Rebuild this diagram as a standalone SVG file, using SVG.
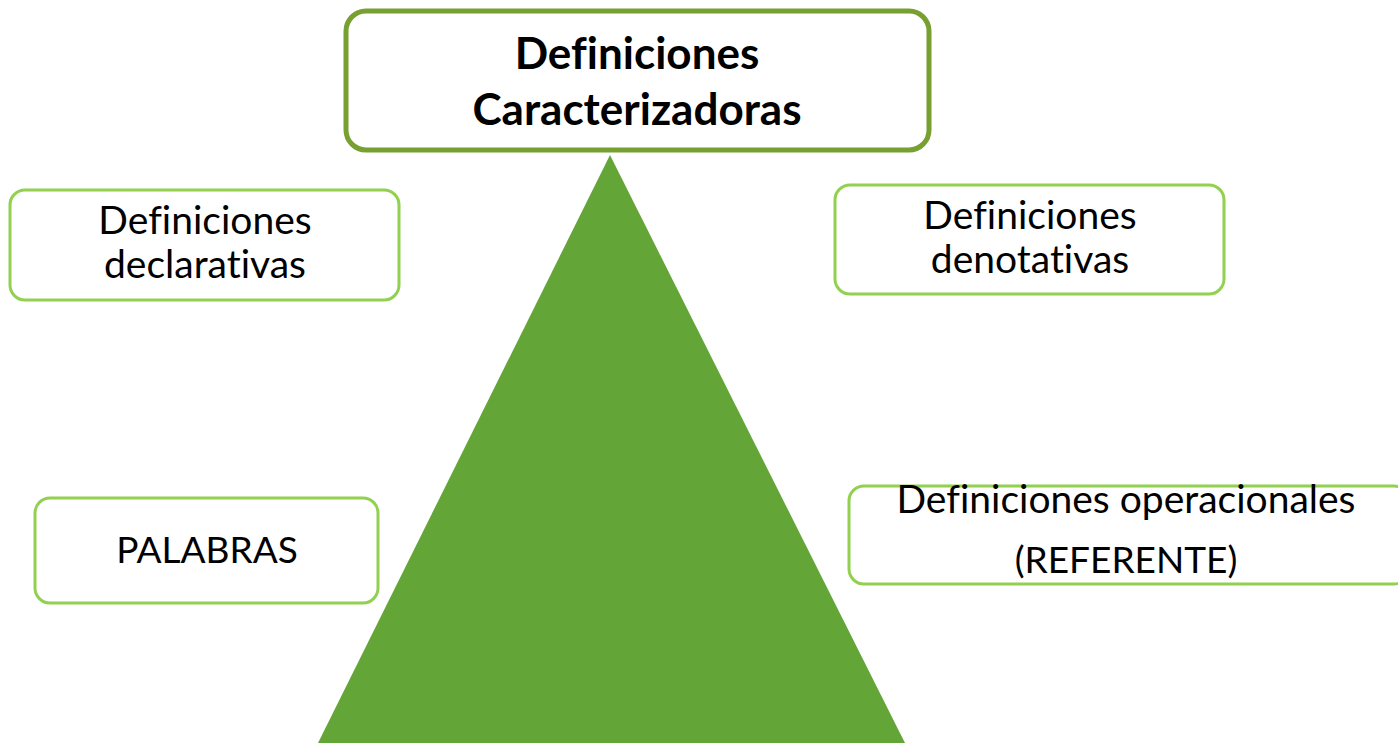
<svg xmlns="http://www.w3.org/2000/svg" width="1398" height="743" viewBox="0 0 1398 743">
<style>
.t{font-family:Lato,"Open Sans","Liberation Sans",sans-serif;font-size:39px;fill:#000;text-anchor:middle;font-variant-ligatures:none}
.c{font-size:37px}
.b{font-weight:bold;font-size:44px}
.box{fill:#fff;stroke:#92d050;stroke-width:3}
</style>
<rect width="1398" height="743" fill="#fff"/>
<g id="triangle"><polygon points="610,155 318,743 905,743" fill="#64a537"/></g>
<g id="top"><rect x="346" y="11" width="583" height="139" rx="20" fill="#fff" stroke="#77a030" stroke-width="5"/>
<text class="t b" x="637" y="69">Definiciones</text><text class="t b" x="637" y="125">Caracterizadoras</text></g>
<g id="declarativas"><rect class="box" x="10" y="190" width="389" height="110" rx="15"/>
<text class="t" x="205" y="234">Definiciones</text><text class="t" x="205" y="278">declarativas</text></g>
<g id="denotativas"><rect class="box" x="835" y="185" width="389" height="109" rx="15"/>
<text class="t" x="1030" y="229">Definiciones</text><text class="t" x="1030" y="273">denotativas</text></g>
<g id="palabras"><rect class="box" x="35" y="498" width="343" height="105" rx="15"/>
<text class="t c" x="207" y="563">PALABRAS</text></g>
<g id="operacionales"><rect class="box" x="849" y="486" width="560" height="98" rx="15"/>
<text class="t" x="1126" y="513">Definiciones operacionales</text><text class="t c" x="1126" y="573">(REFERENTE)</text></g>
<g id="connectors"></g>
</svg>
